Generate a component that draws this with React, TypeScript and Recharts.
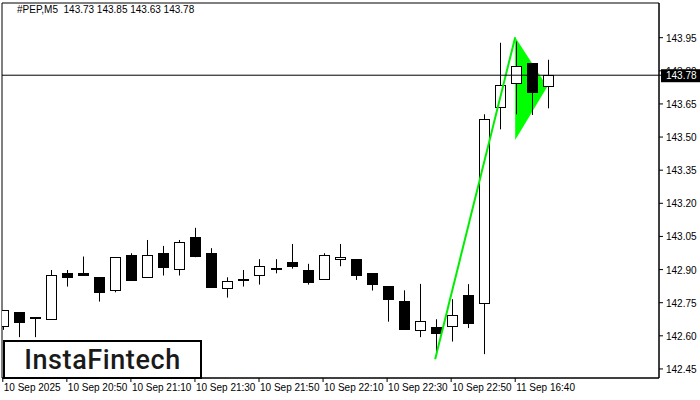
import { ComposedChart, XAxis, YAxis, Bar, Line, Area, ReferenceLine, ReferenceArea } from "recharts";

// #PEP, M5 candles
const OPEN = [
  142.645, 142.707, 142.685, 142.675, 142.883, 142.886, 142.865, 142.806, 142.965, 142.865,
  142.974, 142.904, 143.048, 142.974, 142.816, 142.857, 142.874, 142.905, 142.933, 142.897,
  142.856, 142.947, 142.947, 142.883, 142.825, 142.757, 142.625, 142.642, 142.645, 142.785,
  142.748, 143.635, 143.744, 143.834, 143.73,
];
const HIGH = [
  142.717, 142.707, 142.685, 142.898, 142.898, 142.959, 142.865, 142.956, 142.974, 143.034,
  143.007, 143.034, 143.089, 142.997, 142.865, 142.898, 142.947, 142.947, 143.016, 142.926,
  142.974, 143.016, 142.947, 142.883, 142.825, 142.806, 142.835, 142.675, 142.766, 142.834,
  143.603, 143.927, 143.932, 143.834, 143.85,
];
const LOW = [
  142.627, 142.594, 142.594, 142.675, 142.823, 142.874, 142.755, 142.797, 142.854, 142.865,
  142.873, 142.873, 142.956, 142.823, 142.773, 142.823, 142.832, 142.883, 142.904, 142.832,
  142.856, 142.915, 142.853, 142.805, 142.664, 142.633, 142.594, 142.517, 142.574, 142.635,
  142.517, 143.535, 143.603, 143.6, 143.63,
];
const CLOSE = [
  142.717, 142.664, 142.684, 142.874, 142.865, 142.874, 142.797, 142.956, 142.854, 142.965,
  142.913, 143.024, 142.963, 142.823, 142.847, 142.856, 142.915, 142.904, 142.915, 142.845,
  142.965, 142.956, 142.874, 142.834, 142.766, 142.633, 142.666, 142.615, 142.695, 142.657,
  143.583, 143.735, 143.823, 143.703, 143.78,
];

const TIME_TICKS = [0, 4, 8, 12, 16, 20, 24, 28, 32];
const TIME_LABELS = [
  "10 Sep 2025", "10 Sep 20:50", "10 Sep 21:10", "10 Sep 21:30", "10 Sep 21:50",
  "10 Sep 22:10", "10 Sep 22:30", "10 Sep 22:50", "11 Sep 16:40",
];
const PRICE_TICKS = [142.45, 142.6, 142.75, 142.9, 143.05, 143.2, 143.35, 143.5, 143.65, 143.8, 143.95];
const LAST_PRICE = 143.78;

// bullish pennant: pole and flag
const POLE_X = [27, 32];
const POLE_Y = [142.494, 143.952];
const FLAG_X = [32, 34];
const FLAG_LOW = [143.487, 143.728];
const FLAG_HIGH = [143.952, 143.728];

const X_DOMAIN = [-0.05, 40.98];
const Y_DOMAIN = [142.409, 144.107];

const candles = OPEN.map((o, i) => ({ x: i, o, h: HIGH[i], l: LOW[i], c: CLOSE[i], range: [LOW[i], HIGH[i]] }));
const pole = POLE_X.map((x, i) => ({ x, y: POLE_Y[i] }));
const flag = FLAG_X.map((x, i) => ({ x, band: [FLAG_LOW[i], FLAG_HIGH[i]] }));

const FONT = "'Liberation Sans', Arial, sans-serif";

const Candle = (props: any) => {
  const { x, y, width, height, payload } = props;
  if (!payload) return null;
  const { o, h, l, c } = payload;
  const top = Math.min(y, y + height);
  const span = Math.abs(height);
  const toPx = (v: number) => top + ((h - v) / (h - l || 1)) * span;
  const cx = Math.round(x + width / 2) + 0.5;
  const bTop = Math.round(toPx(Math.max(o, c))) + 0.5;
  const bBot = Math.round(toPx(Math.min(o, c))) + 0.5;
  const half = Math.floor(width / 2);
  return (
    <g>
      <line x1={cx} x2={cx} y1={top} y2={top + span} stroke="#000" />
      <rect
        x={cx - half}
        y={bTop}
        width={half * 2}
        height={Math.max(bBot - bTop, 1)}
        fill={c >= o ? "#fff" : "#000"}
        stroke="#000"
      />
    </g>
  );
};

const TimeTick = ({ x, y, payload }: any) => {
  const idx = TIME_TICKS.indexOf(payload.value);
  return (
    <text x={x + 1} y={y} dy="0.71em" fontSize={10} fontFamily={FONT} fill="#000">
      {TIME_LABELS[idx]}
    </text>
  );
};

// price ticks; the last-price tag comes last in the tick list so it paints over 143.80
const PriceTick = ({ x, y, payload }: any) => {
  const isLast = payload.value === LAST_PRICE;
  return (
    <g>
      {isLast && <rect x={x - 5} y={y - 6} width={40} height={13} fill="#000" />}
      <text x={x} y={y + 4} fontSize={10} fontFamily={FONT} fill={isLast ? "#fff" : "#000"}>
        {payload.value.toFixed(2)}
      </text>
    </g>
  );
};

export default function App() {
  return (
    <div style={{ position: "absolute", left: 0, top: 0, width: 700, height: 400, background: "#fff" }}>
      <ComposedChart width={700} height={400} data={candles} margin={{ top: 3, right: 0, left: 2, bottom: 0 }}>
        <XAxis
          dataKey="x"
          type="number"
          domain={X_DOMAIN}
          allowDataOverflow
          ticks={TIME_TICKS}
          interval={0}
          tick={<TimeTick />}
          tickSize={4}
          tickMargin={2}
          height={22}
          stroke="#000"
        />
        <YAxis
          orientation="right"
          type="number"
          domain={Y_DOMAIN}
          allowDataOverflow
          ticks={[...PRICE_TICKS, LAST_PRICE]}
          interval={0}
          tick={<PriceTick />}
          tickSize={4}
          tickMargin={3}
          width={41}
          stroke="#000"
        />
        <ReferenceArea x1={X_DOMAIN[0]} x2={X_DOMAIN[1]} y1={Y_DOMAIN[0]} y2={Y_DOMAIN[1]} fill="none" stroke="#000" strokeOpacity={1} />
        <Area data={flag} dataKey="band" type="linear" fill="#00ff00" fillOpacity={1} stroke="none" isAnimationActive={false} />
        <Bar dataKey="range" barSize={11} shape={<Candle />} isAnimationActive={false} />
        <Line data={pole} dataKey="y" type="linear" stroke="#00ee00" strokeWidth={2} dot={false} isAnimationActive={false} />
        <ReferenceLine y={LAST_PRICE} stroke="#000" />
      </ComposedChart>
      <div style={{ position: "absolute", left: 17, top: 4, fontSize: 10, fontFamily: FONT, color: "#000", whiteSpace: "pre" }}>
        {"#PEP,M5  143.73 143.85 143.63 143.78"}
      </div>
      <div
        style={{
          position: "absolute",
          left: 3,
          top: 340,
          width: 195,
          height: 35,
          border: "2px solid #000",
          background: "#fff",
          fontFamily: "Roboto, sans-serif",
          fontWeight: 500,
          fontSize: 27,
          letterSpacing: 0.6,
          color: "#1a1a1a",
          lineHeight: "36px",
          textAlign: "center",
        }}
      >
        InstaFintech
      </div>
    </div>
  );
}
